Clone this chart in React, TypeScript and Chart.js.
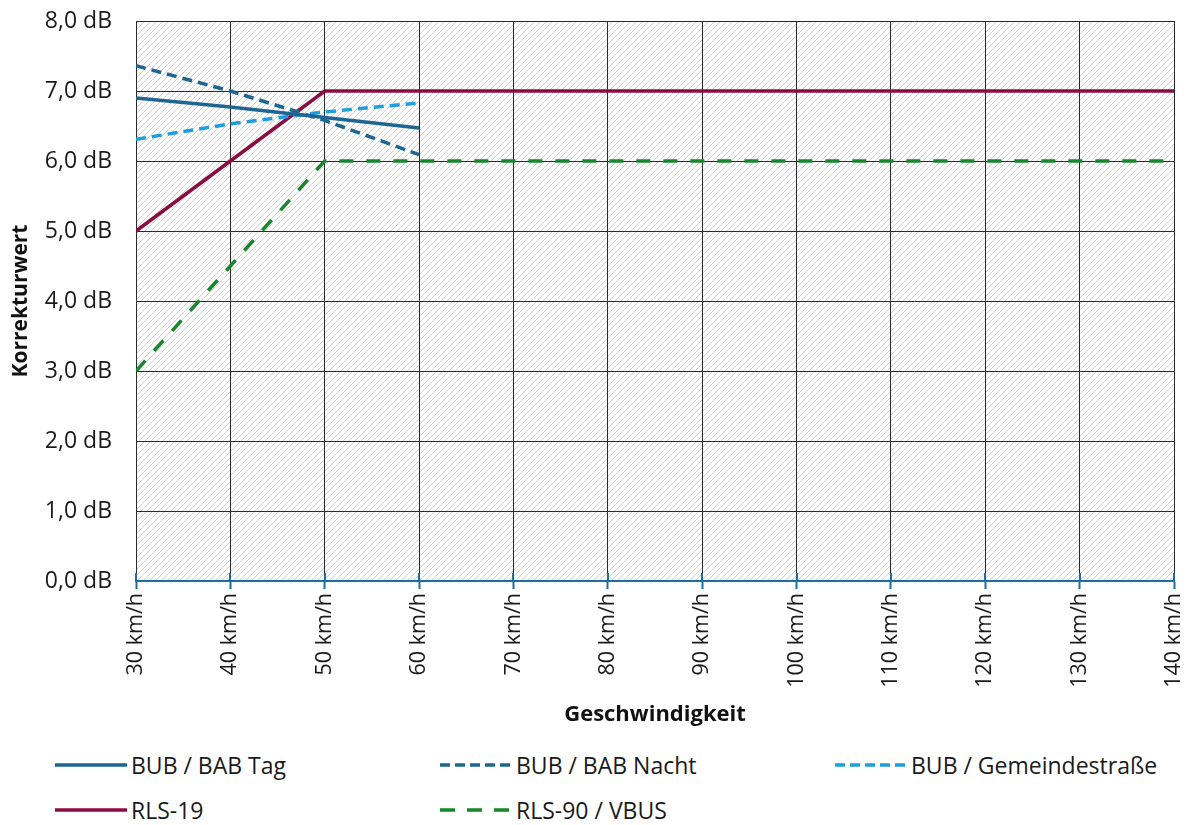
import React, { useEffect, useRef } from "react";
import { Chart, registerables } from "chart.js";

Chart.register(...registerables);

const speeds = [30, 40, 50, 60, 70, 80, 90, 100, 110, 120, 130, 140];
const babTag = [6.9, 6.77, 6.62, 6.47];
const babNacht = [7.36, 7.0, 6.58, 6.09];
const gemeinde = [6.31, 6.53, 6.7, 6.83];
const rls19 = [5, 6, 7, 7, 7, 7, 7, 7, 7, 7, 7, 7];
const rls90 = [3, 4.5, 6, 6, 6, 6, 6, 6, 6, 6, 6, 6];
const yTicks = [0, 1, 2, 3, 4, 5, 6, 7, 8];

const seriesNames = [
  "BUB / BAB Tag",
  "BUB / BAB Nacht",
  "BUB / Gemeindestraße",
  "RLS-19",
  "RLS-90 / VBUS",
];

const DARK_BLUE = "#1d6592";
const LIGHT_BLUE = "#1e9ddf";
const MAROON = "#8a0c41";
const GREEN = "#17872b";
const AXIS_BLUE = "#1a6fa0";

const styles = [
  { color: DARK_BLUE, dash: [] as number[], width: 3.5, legendDash: [] as number[] },
  { color: DARK_BLUE, dash: [10, 6], width: 3.5, legendDash: [10, 5] },
  { color: LIGHT_BLUE, dash: [10, 6], width: 3.5, legendDash: [10, 5] },
  { color: MAROON, dash: [], width: 3.5, legendDash: [] },
  { color: GREEN, dash: [14, 13], width: 3.5, legendDash: [15, 12] },
];

const toPoints = (vals: number[]) => vals.map((v, i) => ({ x: speeds[i], y: v }));

const hatchPlugin = {
  id: "hatch",
  beforeDraw(chart: any) {
    const { ctx, chartArea } = chart;
    if (!chartArea) return;
    const pc = document.createElement("canvas");
    pc.width = 6;
    pc.height = 6;
    const p = pc.getContext("2d")!;
    p.fillStyle = "#ffffff";
    p.fillRect(0, 0, 6, 6);
    p.strokeStyle = "#d3d3d3";
    p.lineWidth = 1;
    p.beginPath();
    p.moveTo(-1, 7);
    p.lineTo(7, -1);
    p.moveTo(-1, 1);
    p.lineTo(1, -1);
    p.moveTo(5, 7);
    p.lineTo(7, 5);
    p.stroke();
    const pat = ctx.createPattern(pc, "repeat");
    ctx.save();
    ctx.fillStyle = pat;
    ctx.fillRect(chartArea.left, chartArea.top, chartArea.right - chartArea.left, chartArea.bottom - chartArea.top);
    ctx.restore();
  },
};

const xTickCrossPlugin = {
  id: "xTickCross",
  afterDatasetsDraw(chart: any) {
    const { ctx, chartArea, scales } = chart;
    const xs = scales.x;
    ctx.save();
    ctx.strokeStyle = AXIS_BLUE;
    ctx.lineWidth = 2;
    ctx.beginPath();
    speeds.forEach((v) => {
      const px = Math.round(xs.getPixelForValue(v));
      ctx.moveTo(px, chartArea.bottom - 8);
      ctx.lineTo(px, chartArea.bottom);
    });
    ctx.stroke();
    ctx.restore();
  },
};

function LegendLine({ color, dash, width }: { color: string; dash: number[]; width: number }) {
  return (
    <svg width={72} height={8} style={{ display: "block" }}>
      <line
        x1={0}
        y1={4}
        x2={72}
        y2={4}
        stroke={color}
        strokeWidth={width}
        strokeDasharray={dash.length ? dash.join(" ") : undefined}
      />
    </svg>
  );
}

export default function App() {
  const canvasRef = useRef<HTMLCanvasElement | null>(null);

  useEffect(() => {
    const canvas = canvasRef.current;
    if (!canvas) return;
    const datasets = [babTag, babNacht, gemeinde, rls19, rls90].map((vals, i) => ({
      label: seriesNames[i],
      data: toPoints(vals),
      borderColor: styles[i].color,
      backgroundColor: styles[i].color,
      borderDash: styles[i].dash,
      borderWidth: styles[i].width,
      pointRadius: 0,
      tension: 0,
      fill: false,
    }));
    const chart = new Chart(canvas, {
      type: "line",
      data: { datasets },
      plugins: [hatchPlugin, xTickCrossPlugin],
      options: {
        animation: false,
        responsive: false,
        maintainAspectRatio: false,
        layout: { padding: { top: 13, right: 10, left: 0, bottom: 0 } },
        plugins: { legend: { display: false }, tooltip: { enabled: false } },
        scales: {
          x: {
            type: "linear",
            min: 30,
            max: 140,
            afterBuildTicks: (scale: any) => {
              scale.ticks = speeds.map((v) => ({ value: v }));
            },
            afterFit: (scale: any) => {
              scale.height = 157;
              scale.paddingLeft = 0;
              scale.paddingRight = 0;
              scale.paddingTop = 0;
              scale.paddingBottom = 0;
            },
            ticks: {
              minRotation: 90,
              maxRotation: 90,
              padding: 4,
              color: "#1a1a1a",
              font: { family: "'Open Sans'", size: 21.5 },
              callback: (v: any) => `${v} km/h`,
            },
            grid: {
              color: "#2a2a2a",
              lineWidth: 1,
              tickColor: AXIS_BLUE,
              tickLength: 8,
              tickWidth: 2,
            },
            border: { color: AXIS_BLUE, width: 2 },
            title: {
              display: true,
              text: "Geschwindigkeit",
              color: "#111",
              font: { family: "'Open Sans'", size: 22, weight: "bold" },
              padding: { top: 0, bottom: 10 },
            },
          },
          y: {
            type: "linear",
            min: 0,
            max: 8,
            afterBuildTicks: (scale: any) => {
              scale.ticks = yTicks.map((v) => ({ value: v }));
            },
            afterFit: (scale: any) => {
              scale.width = 128;
              scale.paddingTop = 0;
              scale.paddingBottom = 0;
              scale.paddingLeft = 0;
              scale.paddingRight = 0;
            },
            ticks: {
              padding: 24,
              color: "#1a1a1a",
              font: { family: "'Open Sans'", size: 23 },
              callback: (v: any) => `${Number(v).toFixed(1).replace(".", ",")} dB`,
            },
            grid: {
              drawTicks: false,
              color: (ctx: any) => (ctx.tick && ctx.tick.value === 0 ? "rgba(0,0,0,0)" : "#2a2a2a"),
              lineWidth: 1,
            },
            border: { display: false },
            title: {
              display: true,
              text: "Korrekturwert",
              color: "#111",
              font: { family: "'Open Sans'", size: 21, weight: "bold" },
              padding: { top: 0, bottom: 0 },
            },
          },
        },
      } as any,
    });
    return () => chart.destroy();
  }, []);

  const legendPos = [
    { left: 47, top: 27 },
    { left: 432, top: 27 },
    { left: 827, top: 27 },
    { left: 47, top: 72 },
    { left: 432, top: 72 },
  ];

  return (
    <div style={{ width: 1176, position: "relative" }}>
      <canvas ref={canvasRef} width={1176} height={730} style={{ display: "block", width: 1176, height: 730 }} />
      <div style={{ position: "relative", width: 1176, height: 87 }}>
        {seriesNames.map((name, i) => (
          <div
            key={name}
            style={{
              position: "absolute",
              left: legendPos[i].left,
              top: legendPos[i].top,
              transform: "translateY(-50%)",
              display: "flex",
              alignItems: "center",
              gap: 4,
              fontFamily: "'Open Sans'",
              fontSize: 23,
              color: "#1a1a1a",
              whiteSpace: "nowrap",
            }}
          >
            <LegendLine color={styles[i].color} dash={styles[i].legendDash} width={styles[i].width} />
            <span>{name}</span>
          </div>
        ))}
      </div>
    </div>
  );
}
